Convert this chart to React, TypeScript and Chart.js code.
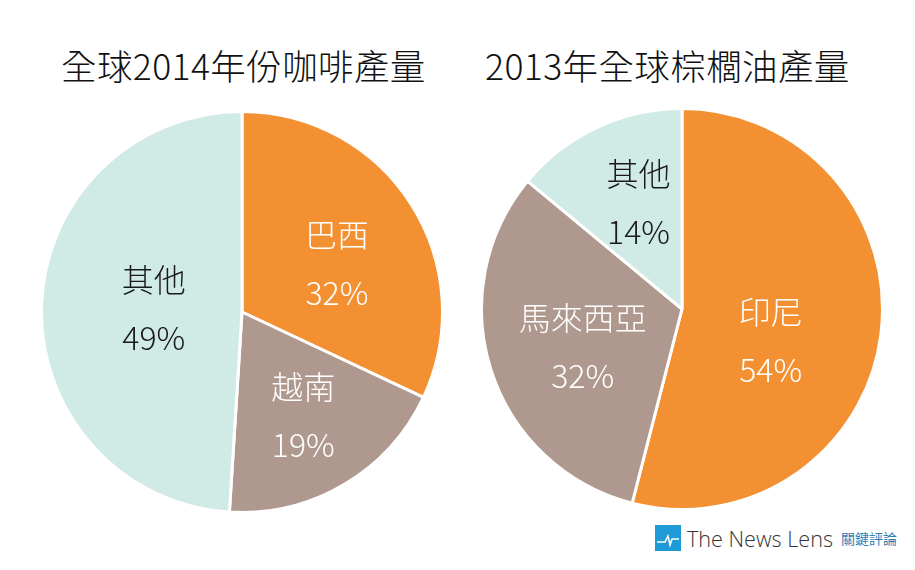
import React, { useEffect, useRef } from "react";
import { Chart, registerables } from "chart.js";

Chart.register(...registerables);

const coffeeTitle = "全球2014年份咖啡產量";
const coffeeLabels = ["巴西", "越南", "其他"];
const coffeeValues = [32, 19, 49];

const palmTitle = "2013年全球棕櫚油產量";
const palmLabels = ["印尼", "馬來西亞", "其他"];
const palmValues = [54, 32, 14];

const sliceColors = ["#F39031", "#AF998E", "#D0EAE5"];
const textColors = ["#ffffff", "#ffffff", "#1a1a1a"];
const FONT = '"Noto Sans CJK TC", "Noto Sans", sans-serif';

const labelPlugin = {
  id: "sliceLabels",
  afterDatasetsDraw(chart: any, _args: any, opts: any) {
    const ctx = chart.ctx;
    const meta = chart.getDatasetMeta(0);
    const labels = chart.data.labels as string[];
    const values = chart.data.datasets[0].data as number[];
    const fr: number[] = opts.radiusFactors || [];
    const ang: number[] = opts.angleShift || [];
    meta.data.forEach((arc: any, i: number) => {
      const p = arc.getProps(["x", "y", "startAngle", "endAngle", "outerRadius"], true);
      const mid = (p.startAngle + p.endAngle) / 2 + (ang[i] || 0);
      const r = p.outerRadius * (fr[i] ?? 0.5);
      const cx = p.x + Math.cos(mid) * r;
      const cy = p.y + Math.sin(mid) * r;
      ctx.save();
      ctx.fillStyle = textColors[i];
      ctx.textAlign = "center";
      ctx.textBaseline = "middle";
      ctx.font = `300 32px ${FONT}`;
      ctx.fillText(labels[i], cx, cy - 29);
      ctx.fillText(values[i] + "%", cx, cy + 29);
      ctx.restore();
    });
  },
};

function Pie({ labels, values, left, top, factors, shifts }: any) {
  const ref = useRef<HTMLCanvasElement | null>(null);
  useEffect(() => {
    if (!ref.current) return;
    const chart = new Chart(ref.current, {
      type: "pie",
      data: {
        labels,
        datasets: [
          {
            data: values,
            backgroundColor: sliceColors,
            borderColor: "#ffffff",
            borderWidth: 3,
          },
        ],
      },
      options: {
        animation: false,
        responsive: false,
        events: [],
        layout: { padding: 0 },
        plugins: {
          legend: { display: false },
          tooltip: { enabled: false },
          title: { display: false },
          sliceLabels: { radiusFactors: factors, angleShift: shifts },
        } as any,
      },
      plugins: [labelPlugin],
    });
    return () => chart.destroy();
  }, []);
  return (
    <canvas
      ref={ref}
      width={404}
      height={404}
      style={{ position: "absolute", left, top, width: 404, height: 404 }}
    />
  );
}

export default function App() {
  const titleStyle: React.CSSProperties = {
    position: "absolute",
    top: 40,
    fontFamily: FONT,
    fontSize: 35.5,
    fontWeight: 300,
    color: "#111",
    whiteSpace: "nowrap",
    lineHeight: "50px",
    letterSpacing: "0.4px",
  };
  return (
    <div
      style={{
        position: "absolute",
        left: 0,
        top: 0,
        width: 915,
        height: 570,
        background: "#fff",
        overflow: "hidden",
      }}
    >
      <div style={{ ...titleStyle, left: 61 }}>{coffeeTitle}</div>
      <div style={{ ...titleStyle, left: 485 }}>{palmTitle}</div>
      <Pie
        labels={coffeeLabels}
        values={coffeeValues}
        left={40}
        top={110}
        factors={[0.53, 0.6, 0.44]}
        shifts={[0.1, 0, 0]}
      />
      <Pie
        labels={palmLabels}
        values={palmValues}
        left={480}
        top={107}
        factors={[0.47, 0.53, 0.57]}
        shifts={[0.22, -0.05, 0.05]}
      />
      <div
        style={{
          position: "absolute",
          left: 655,
          top: 525,
          width: 26,
          height: 26,
          background: "#1E9AD6",
        }}
      >
        <svg width="26" height="26" viewBox="0 0 26 26">
          <polyline
            points="2,17 10,17 13,11 15,20 17,14 24,14"
            fill="none"
            stroke="#fff"
            strokeWidth="1.6"
          />
        </svg>
      </div>
      <div
        style={{
          position: "absolute",
          left: 687,
          top: 524,
          fontFamily: '"Open Sans", "Noto Sans", sans-serif',
          fontSize: 21.6,
          fontWeight: 300,
          color: "#333",
          lineHeight: "30px",
          whiteSpace: "nowrap",
        }}
      >
        The News Lens
      </div>
      <div
        style={{
          position: "absolute",
          left: 841,
          top: 528,
          fontFamily: FONT,
          fontSize: 14,
          color: "#2F7FB5",
          lineHeight: "20px",
          whiteSpace: "nowrap",
        }}
      >
        關鍵評論
      </div>
    </div>
  );
}
